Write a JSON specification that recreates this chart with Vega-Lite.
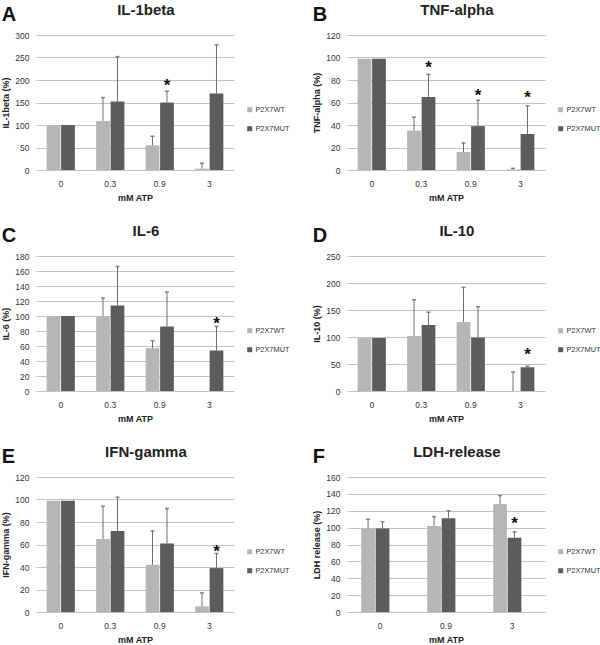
{
  "$schema": "https://vega.github.io/schema/vega-lite/v6.json",
  "padding": {"left": 1, "top": 3, "right": 0, "bottom": 0},
  "background": "white",
  "spacing": 21,
  "resolve": {"scale": {"color": "independent"}, "legend": {"color": "independent"}},
  "config": {
    "view": {"stroke": null},
    "font": "Liberation Sans",
    "title": {"font": "Liberation Sans", "fontSize": 15, "fontWeight": "bold", "color": "#222", "anchor": "middle", "frame": "bounds", "offset": 13},
    "axis": {"labelFont": "Liberation Sans", "labelFontSize": 8.5, "labelColor": "#333", "titleFont": "Liberation Sans", "titleFontSize": 9, "titleFontWeight": "bold", "titleColor": "#222", "gridColor": "#c2c2c2", "domain": false, "ticks": false, "labelOverlap": false},
    "axisX": {"labelAngle": 0, "labelPadding": 9, "titlePadding": 6, "grid": false},
    "axisY": {"labelPadding": 7, "titlePadding": 4, "grid": true},
    "legend": {"labelFont": "Liberation Sans", "labelFontSize": 7.4, "labelColor": "#333", "symbolType": "square", "symbolSize": 25, "rowPadding": 10, "symbolStrokeWidth": 0, "labelOffset": 2},
    "concat": {"spacing": 22}
  },
  "datasets": {
    "d": [
      {"p": "A", "dose": "0", "g": "P2X7WT", "v": 100, "u": null, "s": null},
      {"p": "A", "dose": "0", "g": "P2X7MUT", "v": 100, "u": null, "s": null},
      {"p": "A", "dose": "0.3", "g": "P2X7WT", "v": 109, "u": 161, "s": null},
      {"p": "A", "dose": "0.3", "g": "P2X7MUT", "v": 152, "u": 252, "s": null},
      {"p": "A", "dose": "0.9", "g": "P2X7WT", "v": 55, "u": 75, "s": null},
      {"p": "A", "dose": "0.9", "g": "P2X7MUT", "v": 150, "u": 175, "s": 196},
      {"p": "A", "dose": "3", "g": "P2X7WT", "v": 3, "u": 15, "s": null},
      {"p": "A", "dose": "3", "g": "P2X7MUT", "v": 170, "u": 278, "s": null},
      {"p": "B", "dose": "0", "g": "P2X7WT", "v": 99, "u": null, "s": null},
      {"p": "B", "dose": "0", "g": "P2X7MUT", "v": 99, "u": null, "s": null},
      {"p": "B", "dose": "0.3", "g": "P2X7WT", "v": 35, "u": 47, "s": null},
      {"p": "B", "dose": "0.3", "g": "P2X7MUT", "v": 65, "u": 85, "s": 94},
      {"p": "B", "dose": "0.9", "g": "P2X7WT", "v": 16, "u": 24, "s": null},
      {"p": "B", "dose": "0.9", "g": "P2X7MUT", "v": 39, "u": 62, "s": 69},
      {"p": "B", "dose": "3", "g": "P2X7WT", "v": 0.5, "u": 1.5, "s": null},
      {"p": "B", "dose": "3", "g": "P2X7MUT", "v": 32, "u": 57, "s": 68},
      {"p": "C", "dose": "0", "g": "P2X7WT", "v": 100, "u": null, "s": null},
      {"p": "C", "dose": "0", "g": "P2X7MUT", "v": 100, "u": null, "s": null},
      {"p": "C", "dose": "0.3", "g": "P2X7WT", "v": 100, "u": 124, "s": null},
      {"p": "C", "dose": "0.3", "g": "P2X7MUT", "v": 114, "u": 166, "s": null},
      {"p": "C", "dose": "0.9", "g": "P2X7WT", "v": 57, "u": 67, "s": null},
      {"p": "C", "dose": "0.9", "g": "P2X7MUT", "v": 86, "u": 132, "s": null},
      {"p": "C", "dose": "3", "g": "P2X7WT", "v": 0, "u": null, "s": null},
      {"p": "C", "dose": "3", "g": "P2X7MUT", "v": 54, "u": 86, "s": 95},
      {"p": "D", "dose": "0", "g": "P2X7WT", "v": 98, "u": null, "s": null},
      {"p": "D", "dose": "0", "g": "P2X7MUT", "v": 98, "u": null, "s": null},
      {"p": "D", "dose": "0.3", "g": "P2X7WT", "v": 102, "u": 169, "s": null},
      {"p": "D", "dose": "0.3", "g": "P2X7MUT", "v": 122, "u": 146, "s": null},
      {"p": "D", "dose": "0.9", "g": "P2X7WT", "v": 128, "u": 192, "s": null},
      {"p": "D", "dose": "0.9", "g": "P2X7MUT", "v": 99, "u": 156, "s": null},
      {"p": "D", "dose": "3", "g": "P2X7WT", "v": 0, "u": 35, "s": null},
      {"p": "D", "dose": "3", "g": "P2X7MUT", "v": 44, "u": 46, "s": 75},
      {"p": "E", "dose": "0", "g": "P2X7WT", "v": 99, "u": null, "s": null},
      {"p": "E", "dose": "0", "g": "P2X7MUT", "v": 99, "u": null, "s": null},
      {"p": "E", "dose": "0.3", "g": "P2X7WT", "v": 65, "u": 94, "s": null},
      {"p": "E", "dose": "0.3", "g": "P2X7MUT", "v": 72, "u": 102, "s": null},
      {"p": "E", "dose": "0.9", "g": "P2X7WT", "v": 42, "u": 72, "s": null},
      {"p": "E", "dose": "0.9", "g": "P2X7MUT", "v": 61, "u": 92, "s": null},
      {"p": "E", "dose": "3", "g": "P2X7WT", "v": 5, "u": 17, "s": null},
      {"p": "E", "dose": "3", "g": "P2X7MUT", "v": 39, "u": 52, "s": 57},
      {"p": "F", "dose": "0", "g": "P2X7WT", "v": 99, "u": 110, "s": null},
      {"p": "F", "dose": "0", "g": "P2X7MUT", "v": 99, "u": 107, "s": null},
      {"p": "F", "dose": "0.9", "g": "P2X7WT", "v": 102, "u": 113, "s": null},
      {"p": "F", "dose": "0.9", "g": "P2X7MUT", "v": 111, "u": 120, "s": null},
      {"p": "F", "dose": "3", "g": "P2X7WT", "v": 128, "u": 138, "s": null},
      {"p": "F", "dose": "3", "g": "P2X7MUT", "v": 88, "u": 95, "s": 109}
    ]
  },
  "vconcat": [
    {
      "resolve": {"scale": {"color": "independent"}, "legend": {"color": "independent"}},
      "hconcat": [
        {
          "title": {"text": "A", "anchor": "start", "frame": "bounds", "fontSize": 20, "font": "Liberation Sans", "fontWeight": "bold", "color": "#111", "offset": -22},
          "resolve": {"scale": {"color": "independent"}, "legend": {"color": "independent"}},
          "hconcat": [
            {
              "title": "IL-1beta",
              "width": 198, "height": 135,
              "data": {"name": "d"},
              "transform": [{"filter": "datum.p == 'A'"}],
              "encoding": {
                "x": {"field": "dose", "type": "nominal", "sort": ["0", "0.3", "0.9", "3"], "title": "mM ATP", "scale": {"paddingInner": 0.43, "paddingOuter": 0.215}},
                "xOffset": {"field": "g", "type": "nominal", "sort": ["P2X7WT", "P2X7MUT"], "scale": {"paddingInner": 0.05}}
              },
              "layer": [
                {"mark": {"type": "bar"}, "encoding": {
                  "y": {"field": "v", "type": "quantitative", "title": "IL-1beta (%)", "scale": {"domain": [0, 300], "nice": false}, "axis": {"values": [0, 50, 100, 150, 200, 250, 300]}},
                  "color": {"field": "g", "type": "nominal", "sort": ["P2X7WT", "P2X7MUT"], "scale": {"range": ["#b6b6b6", "#5c5c5c"]}, "legend": {"orient": "none", "legendX": 210, "legendY": 71, "title": null}}}},
                {"transform": [{"filter": "datum.u != null"}], "mark": {"type": "rule", "color": "#6e6e6e", "strokeWidth": 1}, "encoding": {"y": {"field": "v", "type": "quantitative", "title": "IL-1beta (%)", "axis": {"values": [0, 50, 100, 150, 200, 250, 300]}}, "y2": {"field": "u"}}},
                {"transform": [{"filter": "datum.u != null"}], "mark": {"type": "tick", "size": 4, "thickness": 1.5, "color": "#555555"}, "encoding": {"y": {"field": "u", "type": "quantitative", "title": "IL-1beta (%)", "axis": {"values": [0, 50, 100, 150, 200, 250, 300]}}}},
                {"transform": [{"filter": "datum.s != null"}], "mark": {"type": "text", "text": "*", "fontSize": 17, "fontWeight": "bold", "baseline": "middle", "dy": 4, "color": "#111"}, "encoding": {"y": {"field": "s", "type": "quantitative", "title": "IL-1beta (%)", "axis": {"values": [0, 50, 100, 150, 200, 250, 300]}}}}
              ]
            }
          ]
        },
        {
          "title": {"text": "B", "anchor": "start", "frame": "bounds", "fontSize": 20, "font": "Liberation Sans", "fontWeight": "bold", "color": "#111", "offset": -22},
          "resolve": {"scale": {"color": "independent"}, "legend": {"color": "independent"}},
          "hconcat": [
            {
              "title": "TNF-alpha",
              "width": 198, "height": 135,
              "data": {"name": "d"},
              "transform": [{"filter": "datum.p == 'B'"}],
              "encoding": {
                "x": {"field": "dose", "type": "nominal", "sort": ["0", "0.3", "0.9", "3"], "title": "mM ATP", "scale": {"paddingInner": 0.43, "paddingOuter": 0.215}},
                "xOffset": {"field": "g", "type": "nominal", "sort": ["P2X7WT", "P2X7MUT"], "scale": {"paddingInner": 0.05}}
              },
              "layer": [
                {"mark": {"type": "bar"}, "encoding": {
                  "y": {"field": "v", "type": "quantitative", "title": "TNF-alpha (%)", "scale": {"domain": [0, 120], "nice": false}, "axis": {"values": [0, 20, 40, 60, 80, 100, 120]}},
                  "color": {"field": "g", "type": "nominal", "sort": ["P2X7WT", "P2X7MUT"], "scale": {"range": ["#b6b6b6", "#5c5c5c"]}, "legend": {"orient": "none", "legendX": 210, "legendY": 71, "title": null}}}},
                {"transform": [{"filter": "datum.u != null"}], "mark": {"type": "rule", "color": "#6e6e6e", "strokeWidth": 1}, "encoding": {"y": {"field": "v", "type": "quantitative", "title": "TNF-alpha (%)", "axis": {"values": [0, 20, 40, 60, 80, 100, 120]}}, "y2": {"field": "u"}}},
                {"transform": [{"filter": "datum.u != null"}], "mark": {"type": "tick", "size": 4, "thickness": 1.5, "color": "#555555"}, "encoding": {"y": {"field": "u", "type": "quantitative", "title": "TNF-alpha (%)", "axis": {"values": [0, 20, 40, 60, 80, 100, 120]}}}},
                {"transform": [{"filter": "datum.s != null"}], "mark": {"type": "text", "text": "*", "fontSize": 17, "fontWeight": "bold", "baseline": "middle", "dy": 4, "color": "#111"}, "encoding": {"y": {"field": "s", "type": "quantitative", "title": "TNF-alpha (%)", "axis": {"values": [0, 20, 40, 60, 80, 100, 120]}}}}
              ]
            }
          ]
        }
      ]
    },
    {
      "resolve": {"scale": {"color": "independent"}, "legend": {"color": "independent"}},
      "hconcat": [
        {
          "title": {"text": "C", "anchor": "start", "frame": "bounds", "fontSize": 20, "font": "Liberation Sans", "fontWeight": "bold", "color": "#111", "offset": -22},
          "resolve": {"scale": {"color": "independent"}, "legend": {"color": "independent"}},
          "hconcat": [
            {
              "title": "IL-6",
              "width": 198, "height": 135,
              "data": {"name": "d"},
              "transform": [{"filter": "datum.p == 'C'"}],
              "encoding": {
                "x": {"field": "dose", "type": "nominal", "sort": ["0", "0.3", "0.9", "3"], "title": "mM ATP", "scale": {"paddingInner": 0.43, "paddingOuter": 0.215}},
                "xOffset": {"field": "g", "type": "nominal", "sort": ["P2X7WT", "P2X7MUT"], "scale": {"paddingInner": 0.05}}
              },
              "layer": [
                {"mark": {"type": "bar"}, "encoding": {
                  "y": {"field": "v", "type": "quantitative", "title": "IL-6 (%)", "scale": {"domain": [0, 180], "nice": false}, "axis": {"values": [0, 20, 40, 60, 80, 100, 120, 140, 160, 180]}},
                  "color": {"field": "g", "type": "nominal", "sort": ["P2X7WT", "P2X7MUT"], "scale": {"range": ["#b6b6b6", "#5c5c5c"]}, "legend": {"orient": "none", "legendX": 210, "legendY": 71, "title": null}}}},
                {"transform": [{"filter": "datum.u != null"}], "mark": {"type": "rule", "color": "#6e6e6e", "strokeWidth": 1}, "encoding": {"y": {"field": "v", "type": "quantitative", "title": "IL-6 (%)", "axis": {"values": [0, 20, 40, 60, 80, 100, 120, 140, 160, 180]}}, "y2": {"field": "u"}}},
                {"transform": [{"filter": "datum.u != null"}], "mark": {"type": "tick", "size": 4, "thickness": 1.5, "color": "#555555"}, "encoding": {"y": {"field": "u", "type": "quantitative", "title": "IL-6 (%)", "axis": {"values": [0, 20, 40, 60, 80, 100, 120, 140, 160, 180]}}}},
                {"transform": [{"filter": "datum.s != null"}], "mark": {"type": "text", "text": "*", "fontSize": 17, "fontWeight": "bold", "baseline": "middle", "dy": 4, "color": "#111"}, "encoding": {"y": {"field": "s", "type": "quantitative", "title": "IL-6 (%)", "axis": {"values": [0, 20, 40, 60, 80, 100, 120, 140, 160, 180]}}}}
              ]
            }
          ]
        },
        {
          "title": {"text": "D", "anchor": "start", "frame": "bounds", "fontSize": 20, "font": "Liberation Sans", "fontWeight": "bold", "color": "#111", "offset": -22},
          "resolve": {"scale": {"color": "independent"}, "legend": {"color": "independent"}},
          "hconcat": [
            {
              "title": "IL-10",
              "width": 198, "height": 135,
              "data": {"name": "d"},
              "transform": [{"filter": "datum.p == 'D'"}],
              "encoding": {
                "x": {"field": "dose", "type": "nominal", "sort": ["0", "0.3", "0.9", "3"], "title": "mM ATP", "scale": {"paddingInner": 0.43, "paddingOuter": 0.215}},
                "xOffset": {"field": "g", "type": "nominal", "sort": ["P2X7WT", "P2X7MUT"], "scale": {"paddingInner": 0.05}}
              },
              "layer": [
                {"mark": {"type": "bar"}, "encoding": {
                  "y": {"field": "v", "type": "quantitative", "title": "IL-10 (%)", "scale": {"domain": [0, 250], "nice": false}, "axis": {"values": [0, 50, 100, 150, 200, 250]}},
                  "color": {"field": "g", "type": "nominal", "sort": ["P2X7WT", "P2X7MUT"], "scale": {"range": ["#b6b6b6", "#5c5c5c"]}, "legend": {"orient": "none", "legendX": 210, "legendY": 71, "title": null}}}},
                {"transform": [{"filter": "datum.u != null"}], "mark": {"type": "rule", "color": "#6e6e6e", "strokeWidth": 1}, "encoding": {"y": {"field": "v", "type": "quantitative", "title": "IL-10 (%)", "axis": {"values": [0, 50, 100, 150, 200, 250]}}, "y2": {"field": "u"}}},
                {"transform": [{"filter": "datum.u != null"}], "mark": {"type": "tick", "size": 4, "thickness": 1.5, "color": "#555555"}, "encoding": {"y": {"field": "u", "type": "quantitative", "title": "IL-10 (%)", "axis": {"values": [0, 50, 100, 150, 200, 250]}}}},
                {"transform": [{"filter": "datum.s != null"}], "mark": {"type": "text", "text": "*", "fontSize": 17, "fontWeight": "bold", "baseline": "middle", "dy": 4, "color": "#111"}, "encoding": {"y": {"field": "s", "type": "quantitative", "title": "IL-10 (%)", "axis": {"values": [0, 50, 100, 150, 200, 250]}}}}
              ]
            }
          ]
        }
      ]
    },
    {
      "resolve": {"scale": {"color": "independent"}, "legend": {"color": "independent"}},
      "hconcat": [
        {
          "title": {"text": "E", "anchor": "start", "frame": "bounds", "fontSize": 20, "font": "Liberation Sans", "fontWeight": "bold", "color": "#111", "offset": -22},
          "resolve": {"scale": {"color": "independent"}, "legend": {"color": "independent"}},
          "hconcat": [
            {
              "title": "IFN-gamma",
              "width": 198, "height": 135,
              "data": {"name": "d"},
              "transform": [{"filter": "datum.p == 'E'"}],
              "encoding": {
                "x": {"field": "dose", "type": "nominal", "sort": ["0", "0.3", "0.9", "3"], "title": "mM ATP", "scale": {"paddingInner": 0.43, "paddingOuter": 0.215}},
                "xOffset": {"field": "g", "type": "nominal", "sort": ["P2X7WT", "P2X7MUT"], "scale": {"paddingInner": 0.05}}
              },
              "layer": [
                {"mark": {"type": "bar"}, "encoding": {
                  "y": {"field": "v", "type": "quantitative", "title": "IFN-gamma (%)", "scale": {"domain": [0, 120], "nice": false}, "axis": {"values": [0, 20, 40, 60, 80, 100, 120]}},
                  "color": {"field": "g", "type": "nominal", "sort": ["P2X7WT", "P2X7MUT"], "scale": {"range": ["#b6b6b6", "#5c5c5c"]}, "legend": {"orient": "none", "legendX": 210, "legendY": 71, "title": null}}}},
                {"transform": [{"filter": "datum.u != null"}], "mark": {"type": "rule", "color": "#6e6e6e", "strokeWidth": 1}, "encoding": {"y": {"field": "v", "type": "quantitative", "title": "IFN-gamma (%)", "axis": {"values": [0, 20, 40, 60, 80, 100, 120]}}, "y2": {"field": "u"}}},
                {"transform": [{"filter": "datum.u != null"}], "mark": {"type": "tick", "size": 4, "thickness": 1.5, "color": "#555555"}, "encoding": {"y": {"field": "u", "type": "quantitative", "title": "IFN-gamma (%)", "axis": {"values": [0, 20, 40, 60, 80, 100, 120]}}}},
                {"transform": [{"filter": "datum.s != null"}], "mark": {"type": "text", "text": "*", "fontSize": 17, "fontWeight": "bold", "baseline": "middle", "dy": 4, "color": "#111"}, "encoding": {"y": {"field": "s", "type": "quantitative", "title": "IFN-gamma (%)", "axis": {"values": [0, 20, 40, 60, 80, 100, 120]}}}}
              ]
            }
          ]
        },
        {
          "title": {"text": "F", "anchor": "start", "frame": "bounds", "fontSize": 20, "font": "Liberation Sans", "fontWeight": "bold", "color": "#111", "offset": -22},
          "resolve": {"scale": {"color": "independent"}, "legend": {"color": "independent"}},
          "hconcat": [
            {
              "title": "LDH-release",
              "width": 198, "height": 135,
              "data": {"name": "d"},
              "transform": [{"filter": "datum.p == 'F'"}],
              "encoding": {
                "x": {"field": "dose", "type": "nominal", "sort": ["0", "0.9", "3"], "title": "mM ATP", "scale": {"paddingInner": 0.43, "paddingOuter": 0.215}},
                "xOffset": {"field": "g", "type": "nominal", "sort": ["P2X7WT", "P2X7MUT"], "scale": {"paddingInner": 0.05}}
              },
              "layer": [
                {"mark": {"type": "bar"}, "encoding": {
                  "y": {"field": "v", "type": "quantitative", "title": "LDH release (%)", "scale": {"domain": [0, 160], "nice": false}, "axis": {"values": [0, 20, 40, 60, 80, 100, 120, 140, 160]}},
                  "color": {"field": "g", "type": "nominal", "sort": ["P2X7WT", "P2X7MUT"], "scale": {"range": ["#b6b6b6", "#5c5c5c"]}, "legend": {"orient": "none", "legendX": 210, "legendY": 71, "title": null}}}},
                {"transform": [{"filter": "datum.u != null"}], "mark": {"type": "rule", "color": "#6e6e6e", "strokeWidth": 1}, "encoding": {"y": {"field": "v", "type": "quantitative", "title": "LDH release (%)", "axis": {"values": [0, 20, 40, 60, 80, 100, 120, 140, 160]}}, "y2": {"field": "u"}}},
                {"transform": [{"filter": "datum.u != null"}], "mark": {"type": "tick", "size": 4, "thickness": 1.5, "color": "#555555"}, "encoding": {"y": {"field": "u", "type": "quantitative", "title": "LDH release (%)", "axis": {"values": [0, 20, 40, 60, 80, 100, 120, 140, 160]}}}},
                {"transform": [{"filter": "datum.s != null"}], "mark": {"type": "text", "text": "*", "fontSize": 17, "fontWeight": "bold", "baseline": "middle", "dy": 4, "color": "#111"}, "encoding": {"y": {"field": "s", "type": "quantitative", "title": "LDH release (%)", "axis": {"values": [0, 20, 40, 60, 80, 100, 120, 140, 160]}}}}
              ]
            }
          ]
        }
      ]
    }
  ]
}
